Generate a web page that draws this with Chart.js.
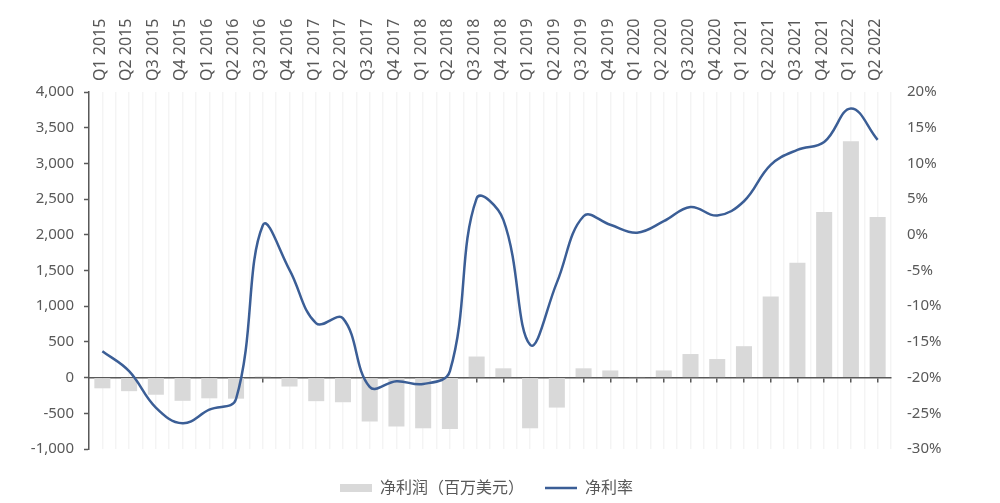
<!DOCTYPE html>
<html>
<head>
<meta charset="utf-8">
<script src="https://cdn.jsdelivr.net/npm/chart.js@4.4.1/dist/chart.umd.min.js"></script>
<style>
  html, body { margin: 0; padding: 0; background: #ffffff; }
  #wrap { width: 1000px; height: 503px; position: relative; }
</style>
</head>
<body>
<div id="wrap"><canvas id="c" width="1000" height="503"></canvas></div>
<script>
const categories = [
  'Q1 2015','Q2 2015','Q3 2015','Q4 2015',
  'Q1 2016','Q2 2016','Q3 2016','Q4 2016',
  'Q1 2017','Q2 2017','Q3 2017','Q4 2017',
  'Q1 2018','Q2 2018','Q3 2018','Q4 2018',
  'Q1 2019','Q2 2019','Q3 2019','Q4 2019',
  'Q1 2020','Q2 2020','Q3 2020','Q4 2020',
  'Q1 2021','Q2 2021','Q3 2021','Q4 2021',
  'Q1 2022','Q2 2022'
];
const netProfit = [
  -150, -190, -240, -325,
  -290, -295, 15, -125,
  -330, -345, -615, -685,
  -710, -720, 295, 130,
  -710, -420, 130, 100,
  10, 100, 330, 260,
  440, 1135, 1610, 2320,
  3310, 2250
];
const netMargin = [
  -16.3, -19.1, -24.2, -26.4,
  -24.5, -23.0, 1.3, -4.9,
  -12.4, -11.7, -21.3, -20.5,
  -20.9, -19.1, 5.1, 2.1,
  -15.4, -6.7, 2.6, 1.4,
  0.3, 1.9, 3.9, 2.7,
  4.7, 9.8, 11.9, 13.0,
  17.7, 13.3
];
const seriesNames = ['净利润（百万美元）', '净利率'];
const leftTicks = { min: -1000, max: 4000, step: 500 };
const rightTicks = { min: -30, max: 20, step: 5 };

const FONT = '"Noto Sans", "Noto Sans CJK SC", sans-serif';
const TXT = '#595959';
const AXIS = '#595959';
const GRID = 'rgba(0,0,0,0.045)';

new Chart(document.getElementById('c'), {
  data: {
    labels: categories,
    datasets: [
      {
        type: 'line',
        label: seriesNames[1],
        data: netMargin,
        yAxisID: 'y1',
        xAxisID: 'x',
        borderColor: '#3B5E96',
        backgroundColor: '#3B5E96',
        borderWidth: 2.5,
        pointRadius: 0,
        pointHoverRadius: 0,
        pointStyle: 'line',
        tension: 0.4,
        fill: false,
        order: 0
      },
      {
        type: 'bar',
        label: seriesNames[0],
        data: netProfit,
        yAxisID: 'y',
        xAxisID: 'x',
        backgroundColor: '#D9D9D9',
        borderWidth: 0,
        pointStyle: 'rect',
        barPercentage: 0.6,
        categoryPercentage: 1.0,
        order: 1
      }
    ]
  },
  options: {
    responsive: false,
    animation: false,
    devicePixelRatio: 1,
    layout: { padding: { left: 0, top: 0, bottom: -3, right: 27 } },
    plugins: {
      tooltip: { enabled: false },
      legend: {
        position: 'bottom',
        reverse: true,
        title: { display: true, text: ' ', font: { size: 5, lineHeight: '10px' }, padding: 0 },
        labels: {
          usePointStyle: true,
          pointStyleWidth: 32,
          boxHeight: 8,
          padding: 21,
          color: TXT,
          font: { family: FONT, size: 16 }
        }
      }
    },
    scales: {
      x: {
        type: 'category',
        position: 'top',
        offset: true,
        grid: { offset: true, color: GRID, drawTicks: false, lineWidth: 1.5 },
        border: { display: false },
        ticks: {
          minRotation: 90, maxRotation: 90, autoSkip: false,
          padding: 11, labelOffset: 17, color: TXT,
          font: { family: FONT, size: 16 }
        },
        afterFit: (s) => { s.height = 92; }
      },
      x2: {
        type: 'category',
        labels: categories,
        position: { y: 0 },
        offset: true,
        grid: { offset: false, color: GRID, drawTicks: true, tickLength: 4, tickColor: AXIS, tickWidth: 1.5, lineWidth: 1.5 },
        border: { display: true, color: AXIS, width: 1.5 },
        ticks: { display: false }
      },
      y: {
        type: 'linear',
        position: 'left',
        min: leftTicks.min, max: leftTicks.max,
        grid: { drawOnChartArea: false, drawTicks: true, tickLength: 5, tickColor: AXIS, tickWidth: 1.5 },
        border: { display: true, color: AXIS, width: 1.5 },
        ticks: {
          stepSize: leftTicks.step, padding: 10, color: TXT,
          font: { family: FONT, size: 15 },
          callback: (v) => v.toLocaleString('en-US')
        },
        afterFit: (s) => { s.width = 89; }
      },
      y1: {
        type: 'linear',
        position: 'right',
        min: rightTicks.min, max: rightTicks.max,
        grid: { display: false, drawTicks: false },
        border: { display: false },
        ticks: {
          stepSize: rightTicks.step, padding: 16, color: TXT,
          font: { family: FONT, size: 15 },
          callback: (v) => v + '%'
        },
        afterFit: (s) => { s.width = 82; }
      }
    }
  }
});
</script>
</body>
</html>
